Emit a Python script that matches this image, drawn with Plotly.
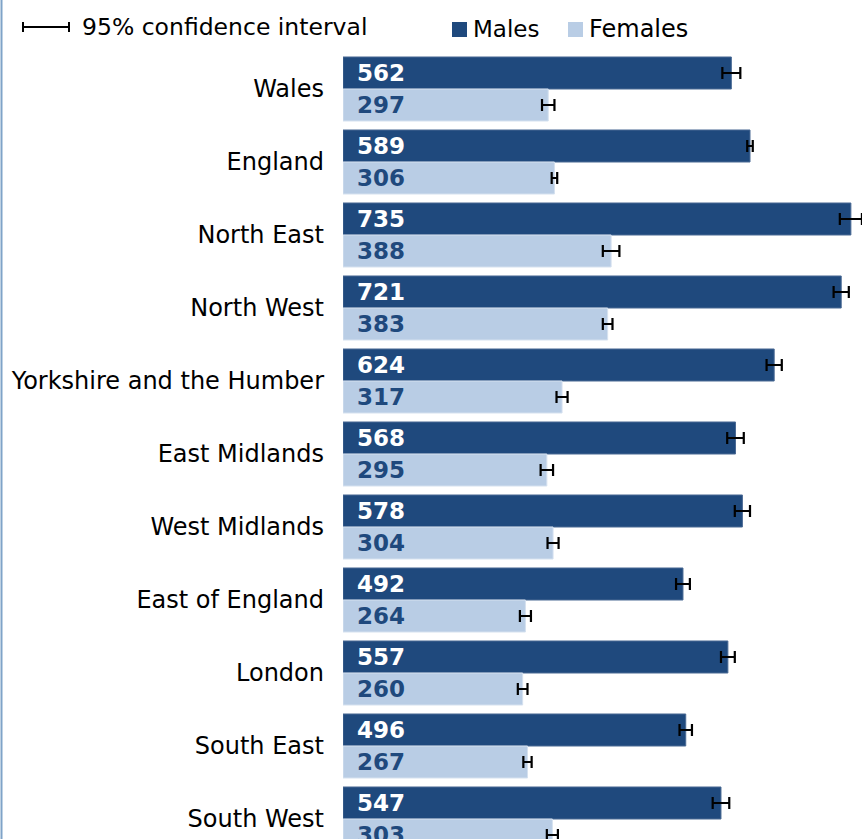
import plotly.graph_objects as go

regions = ["Wales", "England", "North East", "North West", "Yorkshire and the Humber",
           "East Midlands", "West Midlands", "East of England", "London", "South East", "South West"]
males = [562, 589, 735, 721, 624, 568, 578, 492, 557, 496, 547]
females = [297, 306, 388, 383, 317, 295, 304, 264, 260, 267, 303]
males_ci = [13, 4, 16, 11, 11, 12, 11, 10, 10, 9, 12]
females_ci = [9, 4, 12, 7, 8, 9, 8, 8, 7, 6, 8]

MALE_C = "#1F497D"
FEMALE_C = "#B9CDE5"
FONT = "DejaVu Sans"

W, H = 862, 839
ML, MT = 343, 50
PW = W - ML
PH = H - MT

fig = go.Figure()
fig.add_trace(go.Bar(
    y=regions, x=males, orientation="h", name="Males",
    marker=dict(color=MALE_C, line=dict(color="#4A6A94", width=1)),
    error_x=dict(type="data", array=males_ci, color="black", thickness=2.2, width=6),
))
fig.add_trace(go.Bar(
    y=regions, x=females, orientation="h", name="Females",
    marker=dict(color=FEMALE_C, line=dict(color="#D5E1EF", width=1)),
    error_x=dict(type="data", array=females_ci, color="black", thickness=2.2, width=6),
))

annotations = []
for r, m, f in zip(regions, males, females):
    annotations.append(dict(x=0, y=r, xref="x", yref="y", text=str(m), showarrow=False,
                            xanchor="left", yanchor="middle", xshift=12, yshift=16,
                            font=dict(family=FONT, size=23, color="white", weight="bold")))
    annotations.append(dict(x=0, y=r, xref="x", yref="y", text=str(f), showarrow=False,
                            xanchor="left", yanchor="middle", xshift=12, yshift=-16,
                            font=dict(family=FONT, size=23, color=MALE_C, weight="bold")))

def px_x(p):
    return (p - ML) / PW

def px_y(p):
    return 1 - (p - MT) / PH

annotations.append(dict(xref="paper", yref="paper", x=px_x(80), y=px_y(27), text="95% confidence interval",
                        showarrow=False, xanchor="left", yanchor="middle",
                        font=dict(family=FONT, size=23.5, color="black")))
annotations.append(dict(xref="paper", yref="paper", x=px_x(471), y=px_y(29), text="Males",
                        showarrow=False, xanchor="left", yanchor="middle",
                        font=dict(family=FONT, size=23, color="black")))
annotations.append(dict(xref="paper", yref="paper", x=px_x(587), y=px_y(29), text="Females",
                        showarrow=False, xanchor="left", yanchor="middle",
                        font=dict(family=FONT, size=24, color="black")))

shapes = [
    dict(type="line", xref="paper", yref="paper", x0=px_x(22), x1=px_x(70), y0=px_y(27), y1=px_y(27),
         line=dict(color="black", width=2)),
    dict(type="line", xref="paper", yref="paper", x0=px_x(23), x1=px_x(23), y0=px_y(22), y1=px_y(32),
         line=dict(color="black", width=2)),
    dict(type="line", xref="paper", yref="paper", x0=px_x(69), x1=px_x(69), y0=px_y(22), y1=px_y(32),
         line=dict(color="black", width=2)),
    dict(type="rect", xref="paper", yref="paper", x0=px_x(452), x1=px_x(467), y0=px_y(22), y1=px_y(37),
         fillcolor=MALE_C, line=dict(width=0)),
    dict(type="rect", xref="paper", yref="paper", x0=px_x(568), x1=px_x(583), y0=px_y(22), y1=px_y(37),
         fillcolor=FEMALE_C, line=dict(width=0)),
    dict(type="line", xref="paper", yref="paper", x0=px_x(1.5), x1=px_x(1.5), y0=-0.1, y1=1.2,
         line=dict(color="#7FA3C8", width=2)),
]

top_idx = (MT - 89) / 73
bot_idx = (H - 89) / 73

fig.update_layout(
    width=W, height=H,
    margin=dict(l=ML, r=0, t=MT, b=0, pad=0),
    paper_bgcolor="white", plot_bgcolor="white",
    barmode="group", bargap=0.123, bargroupgap=0,
    showlegend=False,
    font=dict(family=FONT, size=24, color="black"),
    xaxis=dict(range=[0, PW / 0.691], visible=False, showgrid=False, zeroline=False),
    yaxis=dict(range=[bot_idx, top_idx], showgrid=False, zeroline=False, showline=False,
               ticks="", tickfont=dict(family=FONT, size=24, color="black"), ticklabelstandoff=18),
    annotations=annotations,
    shapes=shapes,
)

fig.write_html("out.html", config={"displayModeBar": False},
               post_script="document.body.style.margin='0';document.body.style.overflow='hidden';")
